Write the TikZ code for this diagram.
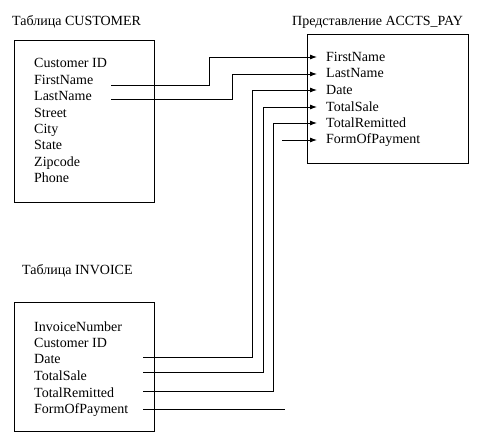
\documentclass[tikz,border=0pt]{standalone}
\usepackage{fontspec}
\setmainfont{Liberation Serif}
\usetikzlibrary{arrows.meta}
\tikzset{
  item/.style={anchor=base west, inner sep=0pt, font=\fontsize{14}{16}\selectfont},
  ttl/.style={anchor=base west, inner sep=0pt, font=\fontsize{14}{16}\selectfont},
  tbl/.style={draw, line width=1pt},
  conn/.style={line width=0.9pt},
  arr/.style={conn, -{Latex[length=7pt,width=5pt]}}
}
\begin{document}
\begin{tikzpicture}[x=1pt,y=-1pt]
\useasboundingbox (0,0) rectangle (479,446);
% CUSTOMER
\node[ttl] (tc) at (12,26) {Таблица CUSTOMER};
\draw[tbl] (14,41) rectangle (154,203);
\node[item] (c1) at (34,68) {Customer ID};
\node[item] (c2) at (34,84.5) {FirstName};
\node[item] (c3) at (34,101) {LastName};
\node[item] (c4) at (34,117.5) {Street};
\node[item] (c5) at (34,134) {City};
\node[item] (c6) at (34,150) {State};
\node[item] (c7) at (34,166.5) {Zipcode};
\node[item] (c8) at (34,183) {Phone};
% ACCTS_PAY
\node[ttl] (ta) at (292,26) {Представление ACCTS\_PAY};
\draw[tbl] (307,35) rectangle (468,164);
\node[item] (a1) at (326,62) {FirstName};
\node[item] (a2) at (326,78) {LastName};
\node[item] (a3) at (326,95) {Date};
\node[item] (a4) at (326,112) {TotalSale};
\node[item] (a5) at (326,128) {TotalRemitted};
\node[item] (a6) at (326,144) {FormOfPayment};
% INVOICE
\node[ttl] (ti) at (22,275) {Таблица INVOICE};
\draw[tbl] (14,302) rectangle (154,431);
\node[item] (i1) at (34,331) {InvoiceNumber};
\node[item] (i2) at (34,347) {Customer ID};
\node[item] (i3) at (34,363) {Date};
\node[item] (i4) at (34,380) {TotalSale};
\node[item] (i5) at (34,397) {TotalRemitted};
\node[item] (i6) at (34,413) {FormOfPayment};
% connector ends
\coordinate (s2) at (111,85);
\coordinate (s3) at (111,99);
\coordinate (e1) at (317,57);
\coordinate (e2) at (317,74);
\coordinate (e3) at (317,90);
\coordinate (e4) at (317,107);
\coordinate (e5) at (317,123);
\coordinate (e6) at (317,140);
\coordinate (f6) at (282,140);
\coordinate (s3i) at (143,357);
\coordinate (s4i) at (143,372);
\coordinate (s5i) at (143,391);
\coordinate (s6i) at (143,409);
\coordinate (g6) at (285,409);
% connectors
\draw[arr] (s2) -| (209,57) -- (e1);
\draw[arr] (s3) -| (232,74) -- (e2);
\draw[arr] (s3i) -| (252,90) -- (e3);
\draw[arr] (s4i) -| (263,107) -- (e4);
\draw[arr] (s5i) -| (273,123) -- (e5);
\draw[arr] (f6) -- (e6);
\draw[conn] (s6i) -- (g6);
\end{tikzpicture}
\end{document}
